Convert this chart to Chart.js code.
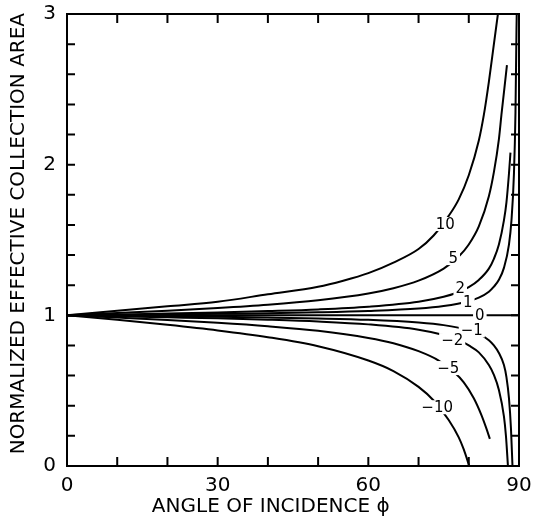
<!DOCTYPE html>
<html><head><meta charset="utf-8">
<script src="https://cdn.jsdelivr.net/npm/chart.js@4.4.1/dist/chart.umd.min.js"></script>
<style>html,body{margin:0;padding:0;background:#fff;}#wrap{width:533px;height:527px;position:relative;}</style>
</head><body><div id="wrap"><canvas id="c"></canvas></div>
<script>
// ---- data ----
const phi10  = [0,10,20,30,40,50,55,60,65,70,73,76,78,80,82,83,84,85,85.8];
const area10 = [1,1.03,1.06,1.09,1.14,1.19,1.23,1.28,1.35,1.44,1.53,1.66,1.77,1.93,2.16,2.33,2.55,2.80,3.0];
const phi5   = [0,10,20,30,40,50,60,65,70,75,78,80,82,84,85,86,86.5,87,87.6];
const area5  = [1,1.015,1.03,1.048,1.07,1.10,1.145,1.18,1.23,1.31,1.39,1.47,1.59,1.79,1.95,2.17,2.33,2.48,2.66];
const phi2   = [0,10,20,30,40,50,60,70,75,78,80,82,84,85,86,87,87.5,88,88.3];
const area2  = [1,1.006,1.012,1.019,1.028,1.039,1.057,1.09,1.123,1.155,1.187,1.235,1.31,1.375,1.47,1.63,1.75,1.94,2.08];
const phi1   = [0,10,20,30,40,50,60,70,75,80,82,84,85,86,87,88,88.5,89,89.3,89.5,89.55];
const area1  = [1,1.003,1.006,1.01,1.014,1.02,1.029,1.045,1.062,1.094,1.117,1.157,1.19,1.236,1.315,1.47,1.63,1.945,2.35,2.9,3.0];
const phi0   = [0,30,60,90];
const area0  = [1,1,1,1];
const phiM1  = [0,10,20,30,40,50,60,70,75,80,82,84,85,86,87,87.5,88,88.4,88.7];
const areaM1 = [1,0.997,0.994,0.99,0.985,0.979,0.97,0.952,0.935,0.902,0.877,0.835,0.80,0.75,0.67,0.59,0.45,0.25,0.0];
const phiM2  = [0,10,20,30,40,50,60,70,75,78,80,82,84,85,86,87,87.4,87.8];
const areaM2 = [1,0.994,0.987,0.98,0.971,0.959,0.94,0.905,0.87,0.837,0.80,0.754,0.67,0.605,0.505,0.33,0.2,0.0];
const phiM5  = [0,10,20,30,40,50,60,65,70,74,77,79,81,82.5,83.5,84.2];
const areaM5 = [1,0.985,0.969,0.95,0.927,0.897,0.85,0.815,0.762,0.70,0.625,0.555,0.45,0.34,0.25,0.18];
const phiM10 = [0,10,20,30,40,50,60,65,70,73,76,78,79,80.1];
const areaM10= [1,0.97,0.937,0.90,0.855,0.795,0.70,0.63,0.525,0.435,0.305,0.19,0.11,0.0];

const curveLabels = ['10','5','2','1','0','\u22121','\u22122','\u22125','\u221210'];
const labelPhi    = [75.3,76.9,78.3,79.8,82.2,80.6,76.7,75.9,73.7];
const labelArea   = [1.606,1.38,1.18,1.088,1.0,0.90,0.836,0.65,0.39];

const xMinorTicks = [10,20,30,40,50,60,70,80];
const yMinorTicks = [0.2,0.4,0.6,0.8,1,1.2,1.4,1.6,1.8,2,2.2,2.4,2.6,2.8];
const xTitle = 'ANGLE OF INCIDENCE \u03d5' + '\u00a0'.repeat(7);
const yTitle = '\u00a0\u00a0NORMALIZED EFFECTIVE COLLECTION AREA';

// ---- chart ----
const FONT = "'DejaVu Sans', sans-serif";
const series = [[phi10,area10],[phi5,area5],[phi2,area2],[phi1,area1],[phi0,area0],
                [phiM1,areaM1],[phiM2,areaM2],[phiM5,areaM5],[phiM10,areaM10]];
const datasets = series.map(([p,a],i)=>({
  label: curveLabels[i],
  data: p.map((v,j)=>({x:v,y:a[j]})),
  borderColor:'#000', borderWidth:2, pointRadius:0, fill:false,
  cubicInterpolationMode:'monotone'
}));

const frameTicks = {
  id:'frameTicks',
  afterDatasetsDraw(chart){
    const {ctx, chartArea:a, scales:{x,y}} = chart;
    ctx.save();
    ctx.font = "15px " + FONT;
    ctx.textAlign='center'; ctx.textBaseline='middle';
    curveLabels.forEach((t,i)=>{
      const px = x.getPixelForValue(labelPhi[i]), py = y.getPixelForValue(labelArea[i]);
      const w = ctx.measureText(t).width + 4;
      ctx.fillStyle='#fff'; ctx.fillRect(px-w/2, py-7, w, 14);
      ctx.fillStyle='#000'; ctx.fillText(t, px, py+1);
    });
    ctx.strokeStyle='#000'; ctx.lineWidth=2;
    ctx.strokeRect(a.left,a.top,a.right-a.left,a.bottom-a.top);
    ctx.beginPath();
    xMinorTicks.forEach(v=>{const px=x.getPixelForValue(v);
      ctx.moveTo(px,a.bottom); ctx.lineTo(px,a.bottom-9);
      ctx.moveTo(px,a.top); ctx.lineTo(px,a.top+9);});
    yMinorTicks.forEach(v=>{const py=y.getPixelForValue(v);
      ctx.moveTo(a.left,py); ctx.lineTo(a.left+8,py);
      ctx.moveTo(a.right,py); ctx.lineTo(a.right-8,py);});
    ctx.stroke();
    ctx.restore();
  }
};

function zeroPad(s){ s.paddingTop=0; s.paddingBottom=0; s.paddingLeft=0; s.paddingRight=0; }

new Chart(document.getElementById('c'), {
  type:'line',
  data:{datasets},
  options:{
    responsive:true, maintainAspectRatio:false, animation:false, devicePixelRatio:1,
    layout:{padding:{left:0,right:14,top:14,bottom:0}},
    plugins:{legend:{display:false}, tooltip:{enabled:false}},
    scales:{
      x:{type:'linear', min:0, max:90,
        grid:{display:false, drawTicks:false}, border:{display:false},
        ticks:{stepSize:30, padding:8, color:'#000', font:{family:FONT,size:20}},
        title:{display:true, text:xTitle, color:'#000', font:{family:FONT,size:20}, padding:{top:0,bottom:8}},
        afterFit(s){ s.height = 61; zeroPad(s); }
      },
      y:{type:'linear', min:0, max:3,
        grid:{display:false, drawTicks:false}, border:{display:false},
        ticks:{stepSize:1, padding:11, color:'#000', font:{family:FONT,size:20}},
        title:{display:true, text:yTitle, color:'#000', font:{family:FONT,size:20}, padding:{top:7,bottom:0}},
        afterFit(s){ s.width = 67; zeroPad(s); }
      }
    }
  },
  plugins:[frameTicks]
});
</script></body></html>
